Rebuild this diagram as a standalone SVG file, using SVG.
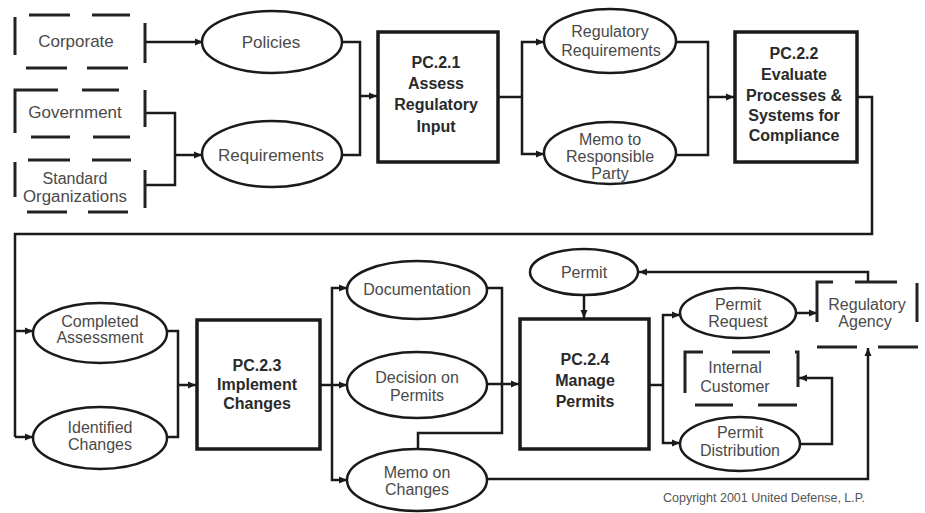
<svg xmlns="http://www.w3.org/2000/svg" width="925" height="513" viewBox="0 0 925 513">
<defs>
<marker id="ah" markerUnits="userSpaceOnUse" markerWidth="9" markerHeight="8" refX="8" refY="4" orient="auto">
<path d="M0,0.5 L8,4 L0,7.5 z" fill="#1a1a1a"/>
</marker>
<style>
.bg{fill:#fff}
.ext{fill:none;stroke:#222;stroke-width:3}
.proc{fill:#fff;stroke:#1a1a1a;stroke-width:3.5}
.data{fill:#fff;stroke:#1a1a1a;stroke-width:2.5}
.con{fill:none;stroke:#1a1a1a;stroke-width:2.5}
.arr{marker-end:url(#ah)}
text{font-family:"Liberation Sans",Arial,sans-serif;text-anchor:middle;fill:#4a4a4a}
.t{font-size:17px}
.s{font-size:16px}
.b{font-size:16px;font-weight:bold;fill:#2a2a2a}
.c{font-size:12.5px;fill:#555}
</style>
</defs>
<rect class="bg" x="0" y="0" width="925" height="513"/>

<g id="connectors">
<path class="con arr" d="M145,42 H203"/>
<path class="con" d="M145,113 H175 V185 H145"/>
<path class="con arr" d="M175,155 H202"/>
<path class="con" d="M342,42 H360 V155 H342"/>
<path class="con arr" d="M360,96 H377"/>
<path class="con" d="M498,97 H522"/>
<path class="con arr" d="M522,97 V42 H544"/>
<path class="con arr" d="M522,97 V154 H544"/>
<path class="con" d="M676,42 H708 V155 H676"/>
<path class="con arr" d="M708,97 H734"/>
<path class="con" d="M857,97 H872 V234 H15 V437"/>
<path class="con arr" d="M15,331 H33"/>
<path class="con arr" d="M15,437 H33"/>
<path class="con" d="M167,331 H178 V437 H167"/>
<path class="con arr" d="M178,385 H196"/>
<path class="con" d="M320,385 H332"/>
<path class="con arr" d="M332,385 V288 H347"/>
<path class="con arr" d="M332,385 H347"/>
<path class="con arr" d="M332,385 V480 H347"/>
<path class="con" d="M487,288 H502 V433 H418 V449"/>
<path class="con arr" d="M487,384 H519"/>
<path class="con arr" d="M584,295 V318"/>
<path class="con" d="M649,385 H663"/>
<path class="con arr" d="M663,385 V315 H680"/>
<path class="con arr" d="M663,385 V443 H680"/>
<path class="con arr" d="M796,313 H817"/>
<path class="con arr" d="M868,282 V272 H639"/>
<path class="con arr" d="M487,479 H868 V348"/>
<path class="con arr" d="M800,444 H832 V378 H799"/>
</g>

<g id="corporate">
<path class="ext" d="M15,17 V55 M29,15 H70 M92,15 H130 M145,23 V63 M26,68 H67 M87,68 H128"/>
<text class="t" x="76" y="47">Corporate</text>
</g>
<g id="government">
<path class="ext" d="M15,133 V90 H58 M82,90 H119 M145,90 V127 M31,137 H70 M93,137 H130"/>
<text class="t" x="75" y="118">Government</text>
</g>
<g id="standard">
<path class="ext" d="M28,160 H70 M92,160 H131 M15,162 V197 M145,170 V208 M27,212 H67 M88,212 H128"/>
<text class="s" x="75" y="184">Standard</text>
<text class="s" x="75" y="202" textLength="104" lengthAdjust="spacingAndGlyphs">Organizations</text>
</g>

<g id="policies">
<ellipse class="data" cx="272" cy="42" rx="70" ry="31"/>
<text class="t" x="271" y="48">Policies</text>
</g>
<g id="requirements">
<ellipse class="data" cx="272" cy="154" rx="70" ry="33"/>
<text class="t" x="271" y="161">Requirements</text>
</g>

<g id="pc21">
<rect class="proc" x="378" y="32" width="120" height="130"/>
<text class="b" x="436" y="68">PC.2.1</text>
<text class="b" x="436" y="89">Assess</text>
<text class="b" x="436" y="110">Regulatory</text>
<text class="b" x="436" y="132">Input</text>
</g>

<g id="reg-req">
<ellipse class="data" cx="610" cy="41" rx="66" ry="32"/>
<text class="s" x="610" y="37">Regulatory</text>
<text class="s" x="611" y="56">Requirements</text>
</g>
<g id="memo-resp">
<ellipse class="data" cx="610" cy="153" rx="66" ry="31"/>
<text class="s" x="610" y="145">Memo to</text>
<text class="s" x="610" y="162">Responsible</text>
<text class="s" x="610" y="179">Party</text>
</g>

<g id="pc22">
<rect class="proc" x="735" y="32" width="122" height="130"/>
<text class="b" x="794" y="59">PC.2.2</text>
<text class="b" x="794" y="80">Evaluate</text>
<text class="b" x="794" y="101">Processes &amp;</text>
<text class="b" x="794" y="121">Systems for</text>
<text class="b" x="794" y="141">Compliance</text>
</g>

<g id="completed">
<ellipse class="data" cx="100" cy="333" rx="67" ry="30"/>
<text class="s" x="100" y="327">Completed</text>
<text class="s" x="100" y="343">Assessment</text>
</g>
<g id="identified">
<ellipse class="data" cx="100" cy="438" rx="67" ry="31"/>
<text class="s" x="100" y="433">Identified</text>
<text class="s" x="100" y="450">Changes</text>
</g>

<g id="pc23">
<rect class="proc" x="197" y="320" width="123" height="129"/>
<text class="b" x="257" y="371">PC.2.3</text>
<text class="b" x="257" y="390">Implement</text>
<text class="b" x="257" y="409">Changes</text>
</g>

<g id="documentation">
<ellipse class="data" cx="417" cy="290" rx="70" ry="29"/>
<text class="s" x="417" y="295">Documentation</text>
</g>
<g id="decision">
<ellipse class="data" cx="417" cy="385" rx="70" ry="33"/>
<text class="s" x="417" y="383">Decision on</text>
<text class="s" x="417" y="401">Permits</text>
</g>
<g id="memo-changes">
<ellipse class="data" cx="417" cy="480" rx="70" ry="31"/>
<text class="s" x="417" y="478">Memo on</text>
<text class="s" x="417" y="495">Changes</text>
</g>

<g id="permit">
<ellipse class="data" cx="584" cy="272" rx="54" ry="23"/>
<text class="s" x="584" y="278">Permit</text>
</g>

<g id="pc24">
<rect class="proc" x="520" y="319" width="129" height="130"/>
<text class="b" x="585" y="365">PC.2.4</text>
<text class="b" x="585" y="386">Manage</text>
<text class="b" x="585" y="407">Permits</text>
</g>

<g id="permit-request">
<ellipse class="data" cx="738" cy="313" rx="58" ry="25"/>
<text class="s" x="738" y="310">Permit</text>
<text class="s" x="738" y="327">Request</text>
</g>
<g id="permit-distribution">
<ellipse class="data" cx="740" cy="444" rx="60" ry="27"/>
<text class="s" x="740" y="438">Permit</text>
<text class="s" x="740" y="456">Distribution</text>
</g>

<g id="regulatory-agency">
<path class="ext" d="M817,322 V282 H833 M855,282 H897 M917,283 V322 M817,347 H857 M878,347 H918"/>
<text class="s" x="867" y="310">Regulatory</text>
<text class="s" x="865" y="327">Agency</text>
</g>

<g id="internal-customer">
<path class="ext" d="M685,393 V352 H703 M732,352 H770 M795,352 H798 V387 M695,405 H733 M758,405 H797"/>
<text class="s" x="735" y="373">Internal</text>
<text class="s" x="735" y="392">Customer</text>
</g>

<text class="c" x="764" y="502">Copyright 2001 United Defense, L.P.</text>
</svg>
